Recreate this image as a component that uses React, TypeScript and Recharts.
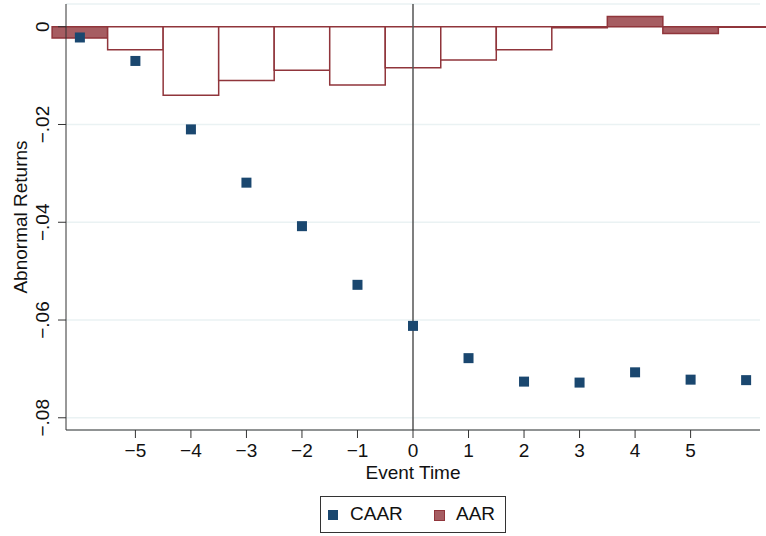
import {
  CartesianGrid,
  ComposedChart,
  Legend,
  ReferenceArea,
  ReferenceLine,
  Scatter,
  XAxis,
  YAxis,
} from 'recharts';

const eventTimes = [-6, -5, -4, -3, -2, -1, 0, 1, 2, 3, 4, 5, 6];
const caarValues = [
  -0.0022, -0.007, -0.021, -0.0319, -0.0408, -0.0528, -0.0612, -0.0678, -0.0726, -0.0728,
  -0.0707, -0.0722, -0.0723,
];
const aarValues = [
  -0.0023, -0.0047, -0.014, -0.011, -0.0089, -0.0119, -0.0084, -0.0068, -0.0047, -0.0002,
  0.0021, -0.0014, -0.0001,
];
const aarSignificant = [true, false, false, false, false, false, false, false, false, false, true, true, false];
const xTicks = [-5, -4, -3, -2, -1, 0, 1, 2, 3, 4, 5];
const yTicks = [0, -0.02, -0.04, -0.06, -0.08];

const FONT = '"Liberation Sans", Arial, sans-serif';
const FONT_SIZE = 19;
const NAVY = '#1a476f';
const CRANBERRY = '#90353b';
const AXIS = '#333333';

const caarData = eventTimes.map((t, i) => ({ t, caar: caarValues[i] }));

const formatX = (v: number) => (v < 0 ? `\u2212${Math.abs(v)}` : String(v));
const formatY = (v: number) => (v === 0 ? '0' : `\u2212${Math.abs(v).toFixed(2).slice(1)}`);

function XTick({ x, y, payload }: any) {
  return (
    <text x={x} y={y + 19} textAnchor="middle" fontSize={FONT_SIZE} fontFamily={FONT} fill="#111">
      {formatX(payload.value)}
    </text>
  );
}

function YTick({ x, y, payload }: any) {
  const bx = x - 9;
  return (
    <text
      x={bx}
      y={y}
      textAnchor="middle"
      fontSize={FONT_SIZE}
      fontFamily={FONT}
      fill="#111"
      transform={`rotate(-90, ${bx}, ${y})`}
    >
      {formatY(payload.value)}
    </text>
  );
}

function SquareMarker({ cx, cy }: any) {
  return <rect x={cx - 5} y={cy - 5} width={10} height={10} fill={NAVY} />;
}

function LegendBox() {
  return (
    <div
      style={{
        boxSizing: 'border-box',
        width: 186,
        height: 37,
        border: `1px solid ${AXIS}`,
        position: 'relative',
        fontFamily: FONT,
        fontSize: FONT_SIZE,
        color: '#111',
      }}
    >
      <span style={{ position: 'absolute', left: 7, top: 13, width: 10, height: 10, background: NAVY }} />
      <span style={{ position: 'absolute', left: 29, top: 6, lineHeight: '22px' }}>CAAR</span>
      <span
        style={{
          position: 'absolute',
          left: 113,
          top: 13,
          width: 9,
          height: 9,
          background: 'rgba(144,53,59,0.8)',
          border: `1px solid ${CRANBERRY}`,
        }}
      />
      <span style={{ position: 'absolute', left: 135, top: 6, lineHeight: '22px' }}>AAR</span>
    </div>
  );
}

export default function App() {
  return (
    <div style={{ width: 766, height: 536 }}>
      <style>{'body{margin:0}'}</style>
      <ComposedChart
        width={766}
        height={536}
        data={caarData}
        margin={{ top: 4, right: 6, bottom: 46, left: 0 }}
      >
        <CartesianGrid vertical={false} stroke="#eaf2f3" strokeWidth={1.5} />
        <XAxis
          type="number"
          dataKey="t"
          domain={[-6.25, 6.25]}
          ticks={xTicks}
          height={60}
          tick={<XTick />}
          tickSize={8}
          tickMargin={0}
          axisLine={{ stroke: AXIS }}
          tickLine={{ stroke: AXIS }}
          label={{
            content: ({ viewBox }: any) => (
              <text
                x={viewBox.x + viewBox.width / 2}
                y={viewBox.y + 49}
                textAnchor="middle"
                fontSize={FONT_SIZE}
                fontFamily={FONT}
                fill="#111"
              >
                Event Time
              </text>
            ),
          }}
        />
        <YAxis
          type="number"
          domain={[-0.0825, 0.00465]}
          ticks={yTicks}
          width={66}
          tick={<YTick />}
          tickSize={8}
          tickMargin={0}
          axisLine={{ stroke: AXIS }}
          tickLine={{ stroke: AXIS }}
          label={{
            content: ({ viewBox }: any) => {
              const cy = viewBox.y + viewBox.height / 2;
              return (
                <text
                  x={27}
                  y={cy}
                  textAnchor="middle"
                  fontSize={FONT_SIZE}
                  fontFamily={FONT}
                  fill="#111"
                  transform={`rotate(-90, 27, ${cy})`}
                >
                  Abnormal Returns
                </text>
              );
            },
          }}
        />
        <ReferenceLine x={0} stroke="#555555" strokeWidth={1.5} />
        <Scatter dataKey="caar" name="CAAR" shape={<SquareMarker />} isAnimationActive={false} />
        {eventTimes.map((t, i) => (
          <ReferenceArea
            key={t}
            x1={t - 0.5}
            x2={t + 0.5}
            y1={0}
            y2={aarValues[i]}
            ifOverflow="visible"
            fill={aarSignificant[i] ? CRANBERRY : '#ffffff'}
            fillOpacity={aarSignificant[i] ? 0.8 : 1}
            stroke={CRANBERRY}
            strokeWidth={1.5}
            strokeOpacity={1}
          />
        ))}
        <Legend
          layout="horizontal"
          verticalAlign="middle"
          align="center"
          wrapperStyle={{ left: 320, top: 496, width: 186, height: 37 }}
          content={() => <LegendBox />}
        />
      </ComposedChart>
    </div>
  );
}
